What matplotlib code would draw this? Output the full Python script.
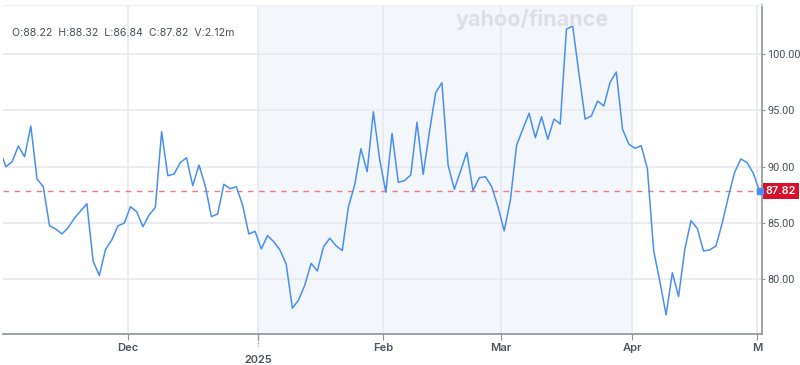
import matplotlib
matplotlib.use("Agg")
from matplotlib import pyplot as plt
from matplotlib import transforms

# daily closes, early Nov 2024 to 1 May 2025
closes = [91.5, 89.98, 90.43, 91.82, 90.87, 93.6, 88.89, 88.2, 84.74, 84.44,
          84.0, 84.56, 85.4, 86.04, 86.69, 81.6, 80.3, 82.64, 83.47, 84.74,
          84.95, 86.43, 85.98, 84.65, 85.69, 86.37, 93.09, 89.18, 89.33, 90.34,
          90.78, 88.29, 90.13, 88.29, 85.54, 85.78, 88.42, 88.03, 88.2, 86.58,
          84.0, 84.24, 82.67, 83.85, 83.32, 82.58, 81.33, 77.4, 78.13, 79.47,
          81.39, 80.71, 82.87, 83.62, 82.96, 82.52, 86.43, 88.36, 91.58, 89.54,
          94.87, 90.67, 87.71, 92.95, 88.6, 88.74, 89.24, 93.93, 89.3, 93.09,
          96.56, 97.45, 90.13, 87.97, 89.6, 91.26, 87.85, 89.0, 89.09, 88.2,
          86.43, 84.27, 87.02, 91.91, 93.33, 94.73, 92.56, 94.43, 92.42, 94.22,
          93.78, 102.22, 102.49, 98.3, 94.22, 94.49, 95.82, 95.38, 97.48, 98.4,
          93.33, 92.0, 91.62, 91.85, 89.78, 82.52, 79.76, 76.8, 80.56, 78.43,
          82.64, 85.19, 84.5, 82.49, 82.58, 82.93, 84.95, 87.32, 89.48, 90.67,
          90.34, 89.4, 87.82]

# month boundaries in trading-day units
month_pos = [20.6, 41.5, 61.56, 80.5, 101.56, 121.6]
month_labels = ["Dec", "2025", "Feb", "Mar", "Apr", "M"]
price_ticks = [80, 85, 90, 95, 100]
ohlc_text = "O:88.22  H:88.32  L:86.84  C:87.82  V:2.12m"
last_close = 87.82

plt.rcParams['font.family'] = ['Inter', 'DejaVu Sans']

fig = plt.figure(figsize=(8, 3.65), dpi=100)
ax = fig.add_axes([0.0041, 0.0841, 0.94875, 0.9022])

days = list(range(len(closes)))

# 2025 Q1 shading
ax.axvspan(month_pos[1], month_pos[4], color="#f3f6fb", zorder=0, lw=0)

ax.plot(days, closes, color="#4790f0", lw=1.1, zorder=3)
ax.plot(days[-1], closes[-1], marker="s", ms=4, color="#4790f0", zorder=4, clip_on=False)
ax.axhline(last_close, color="#ee7b82", lw=1, ls=(0, (4, 4)), zorder=2)

ax.set_xlim(0.58, 122.44)
ax.set_ylim(75.08, 104.36)

ax.set_xticks(month_pos)
ax.set_xticklabels(month_labels)
ax.set_yticks(price_ticks)
ax.set_yticklabels(["%.2f" % v for v in price_ticks])
ax.yaxis.tick_right()

ax.grid(True, color="#e8eaee", lw=1.3, zorder=1)
ax.set_axisbelow(True)

ax.spines["left"].set_visible(False)
ax.spines["top"].set_color("#eceef1")
ax.spines["bottom"].set_color("#8e939a")
ax.spines["right"].set_color("#8e939a")
ax.spines["bottom"].set_linewidth(1.2)
ax.spines["right"].set_linewidth(1.2)

ax.tick_params(axis="x", length=4, color="#8e939a", labelsize=8,
               labelcolor="#4d555c", pad=2)
ax.tick_params(axis="y", length=2.5, color="#8e939a", labelsize=7.8,
               labelcolor="#464e56", pad=1)
for lbl in ax.get_xticklabels():
    lbl.set_fontweight("semibold")
for lbl in ax.get_yticklabels():
    lbl.set_family(["Roboto", "DejaVu Sans"])

# year label sits one row lower
ax.xaxis.get_major_ticks()[1].set_pad(11)
trans = transforms.blended_transform_factory(ax.transData, ax.transAxes)
ax.plot([month_pos[1], month_pos[1]], [0, -0.035], transform=trans,
        color="#9aa0a6", lw=1, ls=(0, (1, 1)), clip_on=False)

# last price tag
ax.annotate("%.2f" % last_close, xy=(1, last_close),
            xycoords=("axes fraction", "data"),
            xytext=(2.5, 0), textcoords="offset points",
            ha="left", va="center", fontsize=7.8, color="white",
            fontweight="semibold",
            bbox=dict(boxstyle="square,pad=0.3", fc="#d8102c", ec="none"))

fig.text(12.5 / 800, 1 - 33 / 365, ohlc_text, fontsize=7.6,
         color="#464e56", va="center", ha="left")
fig.text(532 / 800, 1 - 20 / 365, "yahoo/finance", fontsize=15.5,
         fontweight="bold", color="#dce0e5", ha="center", va="center",
         zorder=0)

fig.savefig("out.png", dpi=100)
